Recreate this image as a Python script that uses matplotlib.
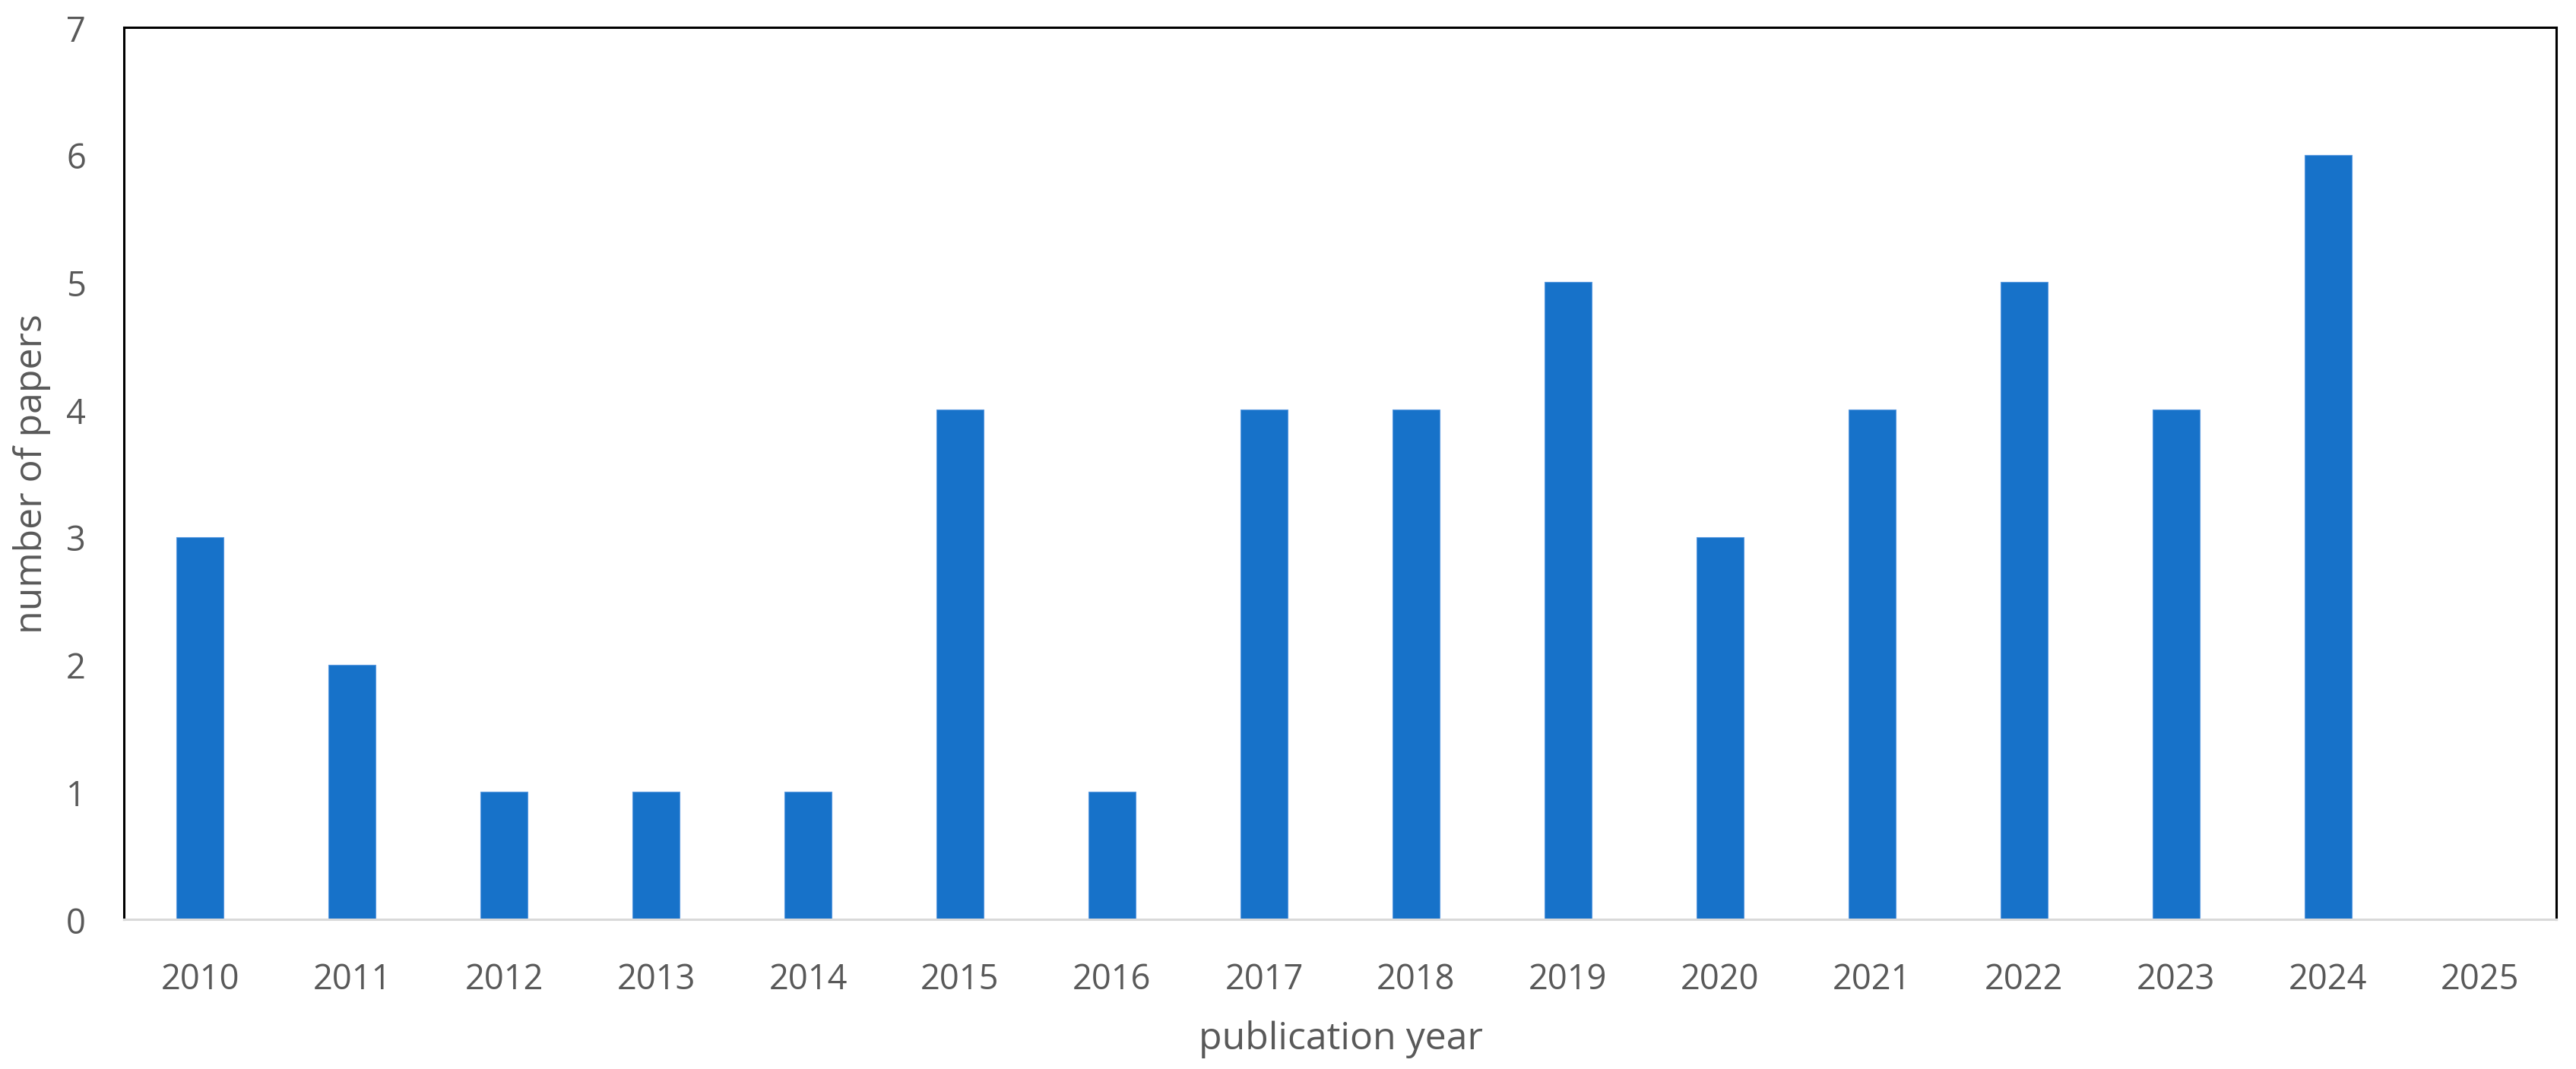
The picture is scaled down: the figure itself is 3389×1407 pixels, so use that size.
import matplotlib
matplotlib.use("Agg")
import matplotlib.pyplot as plt
import numpy as np

years = ["2010", "2011", "2012", "2013", "2014", "2015", "2016", "2017",
         "2018", "2019", "2020", "2021", "2022", "2023", "2024", "2025"]
papers = [3, 2, 1, 1, 1, 4, 1, 4, 4, 5, 3, 4, 5, 4, 6, 0]
y_ticks = [0, 1, 2, 3, 4, 5, 6, 7]

plt.rcParams['font.family'] = ['Open Sans', 'DejaVu Sans']
text_color = '#595959'
bar_color = '#1772C9'

fig = plt.figure(figsize=(16.9499, 7.0399), dpi=200)
ax = fig.add_axes([0.0481, 0.1399, 0.9920 - 0.0481, 0.9737 - 0.1399])

x = np.arange(len(years))
ax.bar(x, papers, width=0.31, color=bar_color, edgecolor='#5C9BE0', linewidth=0.4, zorder=2)

ax.set_xlim(-0.5, len(years) - 0.5)
ax.set_ylim(0, 7)
ax.set_yticks(y_ticks)
ax.set_yticklabels([str(v) for v in y_ticks])
ax.set_xticks(x)
ax.set_xticklabels(years)

ax.tick_params(axis='both', length=0, labelsize=16.3, colors=text_color)
ax.tick_params(axis='y', pad=18)
ax.tick_params(axis='x', pad=20)

for s in ['left', 'top', 'right']:
    ax.spines[s].set_color('black')
    ax.spines[s].set_linewidth(1.1)
ax.spines['bottom'].set_color('#D9D9D9')
ax.spines['bottom'].set_linewidth(1.1)
ax.spines['bottom'].set_zorder(3)

fig.text(0.5205, 0.0284, 'publication year', ha='center', va='center',
         fontsize=18, color=text_color)
fig.text(0.0124, 0.557, 'number of papers', ha='center', va='center',
         rotation=90, fontsize=18, color=text_color)

fig.savefig('out.png', dpi=200, facecolor='white')
